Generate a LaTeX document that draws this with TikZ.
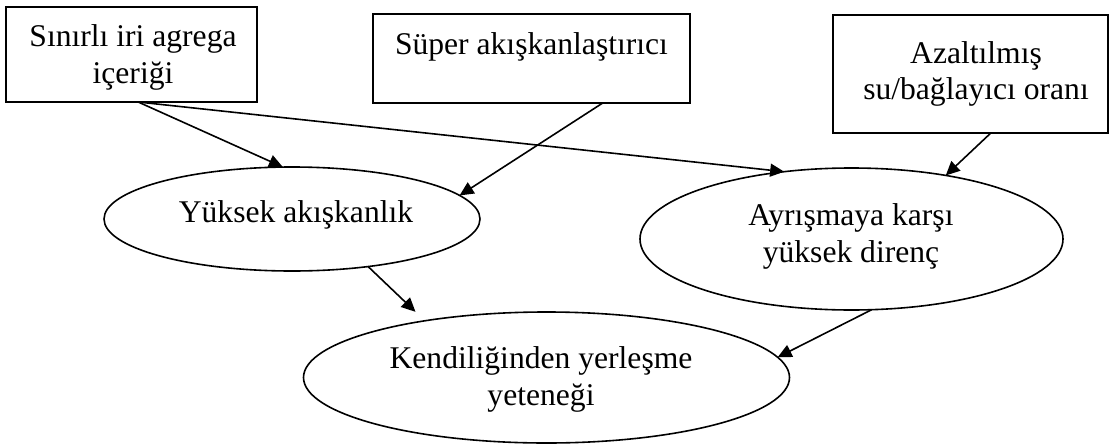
\documentclass[tikz,border=0pt]{standalone}
\usepackage{fontspec}
\setmainfont{Liberation Serif}
\usetikzlibrary{arrows.meta, shapes.geometric}
\tikzset{
  shapeline/.style={draw=black, line width=1.6pt, inner sep=0pt, outer sep=0pt},
  boxshape/.style={shapeline, rectangle},
  ellshape/.style={shapeline, ellipse},
  lbl/.style={anchor=base, align=center, inner sep=0pt, font=\fontsize{31.6pt}{36.5pt}\selectfont},
  conn/.style={line width=1.6pt, -{Triangle[length=14pt, width=13pt]}}
}
\begin{document}
\begin{tikzpicture}[x=1pt, y=-1pt]
\useasboundingbox (0,0) rectangle (1110,444);
% boxes
\node[boxshape, minimum width=251pt, minimum height=95pt] (b1) at (131.5,54.5) {};
\node[boxshape, minimum width=317pt, minimum height=89pt] (b2) at (531.5,58.5) {};
\node[boxshape, minimum width=275pt, minimum height=118pt] (b3) at (970.5,74) {};
% ellipses
\node[ellshape, minimum width=376pt, minimum height=104pt] (e1) at (292,219) {};
\node[ellshape, minimum width=423pt, minimum height=142pt] (e2) at (851.5,239) {};
\node[ellshape, minimum width=486pt, minimum height=131pt] (e3) at (546.5,377.5) {};
% texts (base = baseline of the last line)
\node[lbl] (t1) at (133,83) {Sınırlı iri agrega\\içeriği};
\node[lbl] (t2) at (531.5,55) {Süper akışkanlaştırıcı};
\node[lbl] (t3) at (976,99.5) {Azaltılmış\\su/bağlayıcı oranı};
\node[lbl] (t4) at (296,222) {Yüksek akışkanlık};
\node[lbl] (t5) at (851,262) {Ayrışmaya karşı\\yüksek direnç};
\node[lbl] (t6) at (541,405) {Kendiliğinden yerleşme\\yeteneği};
% connectors
\draw[conn] (b1.278) -- (e1.100);
\draw[conn] (b1.278) -- (e2.135);
\draw[conn] (b2.328) -- (e1.8);
\draw[conn] (b3.289) -- (e2.34);
\draw[conn, shorten >=13pt] (e1.328) -- (e3.155);
\draw[conn] (e2.286) -- (e3.5);
\end{tikzpicture}
\end{document}
